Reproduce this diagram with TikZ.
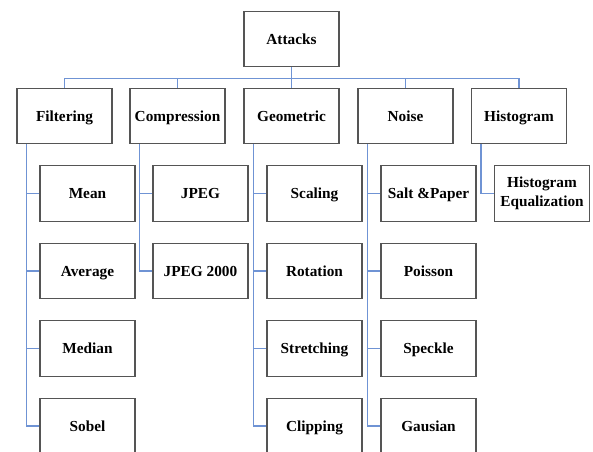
\documentclass[tikz,border=0pt]{standalone}
\usepackage{fontspec}
\setmainfont{Liberation Serif}
\definecolor{linkblue}{HTML}{6F93D4}
\definecolor{boxgray}{HTML}{555555}
\begin{document}
\begin{tikzpicture}[x=1pt,y=-1pt,
  box/.style={draw=boxgray,line width=1.1pt,fill=white,minimum width=95pt,minimum height=55.5pt,inner sep=0pt,
    font=\fontsize{15.3}{19}\selectfont\bfseries,align=center},
  one/.style={text height=10.6pt,text depth=0pt},
  link/.style={draw=linkblue,line width=1.6pt}]
\clip (0,0) rectangle (593,451);
\fill[white] (0,0) rectangle (593,451);
\node[box,one] (att) at (291.5,39) {Attacks};
\node[box,one] (filt) at (64.5,116) {Filtering};
\node[box,one] (comp) at (177.5,116) {Compression};
\node[box,one] (geom) at (291.5,116) {Geometric};
\node[box,one] (noise) at (405.5,116) {Noise};
\node[box,one] (hist) at (519,116) {Histogram};
% children
\node[box,one] (mean) at (87.5,193.5) {Mean};
\node[box,one] (avg) at (87.5,271) {Average};
\node[box,one] (med) at (87.5,348.5) {Median};
\node[box,one] (sob) at (87.5,426) {Sobel};
\node[box,one] (jpeg) at (200.5,193.5) {JPEG};
\node[box,one] (jp2) at (200.5,271) {JPEG 2000};
\node[box,one] (scal) at (314.5,193.5) {Scaling};
\node[box,one] (rot) at (314.5,271) {Rotation};
\node[box,one] (str) at (314.5,348.5) {Stretching};
\node[box,one] (clip) at (314.5,426) {Clipping};
\node[box,one] (salt) at (428.5,193.5) {Salt \&Paper};
\node[box,one] (poi) at (428.5,271) {Poisson};
\node[box,one] (spk) at (428.5,348.5) {Speckle};
\node[box,one] (gau) at (428.5,426) {Gausian};
\node[box] (heq) at (542,193.5) {Histogram\\Equalization};
% connectors
\foreach \t in {filt,comp,geom,noise,hist}
  \draw[link] (att.south) -- ++(0,11) -| (\t.north);
\foreach \p/\c in {filt/mean,filt/avg,filt/med,filt/sob,comp/jpeg,comp/jp2,
  geom/scal,geom/rot,geom/str,geom/clip,noise/salt,noise/poi,noise/spk,noise/gau,hist/heq}
  \draw[link] ([xshift=10pt]\p.south west) |- (\c.west);
\end{tikzpicture}
\end{document}
